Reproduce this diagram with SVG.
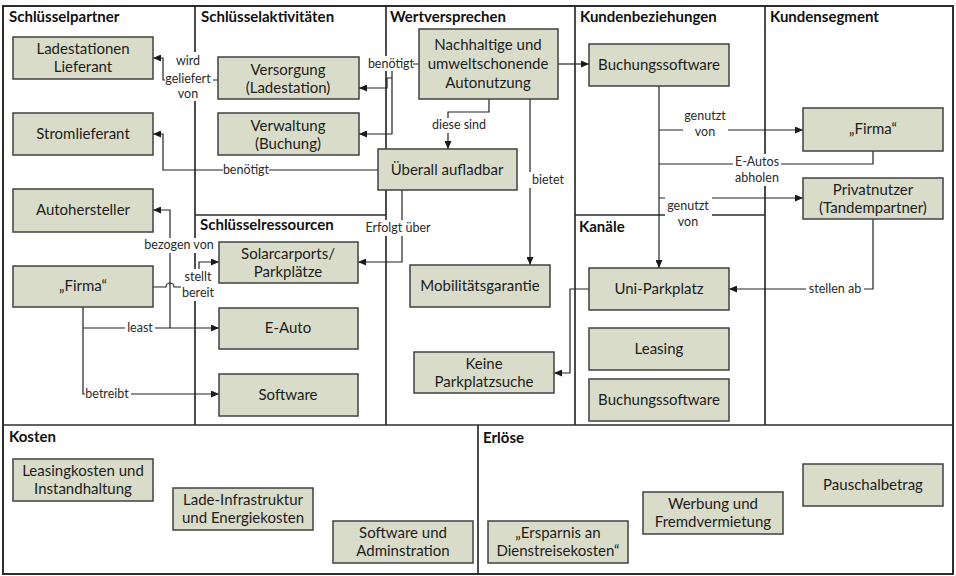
<svg xmlns="http://www.w3.org/2000/svg" width="956" height="576" viewBox="0 0 956 576">
<defs>
<style>
.grid{stroke:#2e2e2e;stroke-width:1.7;fill:none}
.outer{stroke:#2e2e2e;stroke-width:2;fill:none}
.hdr{font-family:Lato,"Liberation Sans",sans-serif;font-weight:bold;font-size:15px;fill:#111}
.box{fill:#d9dcc9;stroke:#404040;stroke-width:1.5}
.bt{font-family:Lato,"Liberation Sans",sans-serif;font-size:15px;fill:#1c1c1c;text-anchor:middle}
.con{stroke:#222;stroke-width:1.2;fill:none}
.arr{marker-end:url(#ah)}
.lb{font-family:Lato,"Liberation Sans",sans-serif;font-size:12.5px;fill:#2a2a2a;text-anchor:middle}
.lbg{fill:#fff}
</style>
<marker id="ah" markerUnits="userSpaceOnUse" markerWidth="8" markerHeight="7" refX="8" refY="3.5" orient="auto">
<path d="M0,0 L8,3.5 L0,7 z" fill="#1a1a1a"/>
</marker>
</defs>
<rect width="956" height="576" fill="#fff"/>
<g id="grid">
<rect class="outer" x="3" y="6" width="950" height="568"/>
<path class="grid" d="M195,6 V425 M386,6 V425 M575,6 V425 M765,6 V425 M3,425 H953 M478,425 V574 M195,215 H386 M575,215 H765"/>
<text class="hdr" x="9" y="22">Schlüsselpartner</text>
<text class="hdr" x="201" y="22">Schlüsselaktivitäten</text>
<text class="hdr" x="390" y="22">Wertversprechen</text>
<text class="hdr" x="580" y="22">Kundenbeziehungen</text>
<text class="hdr" x="770" y="22">Kundensegment</text>
<text class="hdr" x="200" y="230">Schlüsselressourcen</text>
<text class="hdr" x="579" y="232">Kanäle</text>
<text class="hdr" x="9" y="442">Kosten</text>
<text class="hdr" x="483" y="443">Erlöse</text>
</g>
<g id="connectors">
<path class="con arr" d="M218,80 H163 V58 H153"/>
<path class="con arr" d="M419,64 H392 V134 H359"/>
<path class="con arr" d="M392,78 H387 V88 H359"/>
<path class="con arr" d="M378,170 H163 V134 H153"/>
<path class="con arr" d="M489,99 V112 H448 V149"/>
<path class="con arr" d="M530,99 V265"/>
<path class="con arr" d="M402,190 V262 H358"/>
<path class="con arr" d="M558,64 H589"/>
<path class="con arr" d="M659,86 V268"/>
<path class="con arr" d="M659,130 H803"/>
<path class="con" d="M873,151 V164 H659"/>
<path class="con arr" d="M659,198 H803"/>
<path class="con arr" d="M873,219 V289 H729"/>
<path class="con arr" d="M589,289 H570 V373 H554"/>
<path class="con arr" d="M83,307 V394 H219"/>
<path class="con arr" d="M83,328 H219"/>
<path class="con arr" d="M170,328 V210 H153"/>
<path class="con arr" d="M153,287 H166 a4,4 0 0 1 8,0 H199 V262 H219"/>
<g id="labels">
<rect class="lbg" x="165" y="52" width="48" height="49"/>
<text class="lb" x="188" y="65">wird</text>
<text class="lb" x="188" y="83">geliefert</text>
<text class="lb" x="188" y="98">von</text>
<rect class="lbg" x="369" y="56" width="44" height="15"/>
<text class="lb" x="391" y="68">benötigt</text>
<rect class="lbg" x="223" y="163" width="46" height="15"/>
<text class="lb" x="246" y="174">benötigt</text>
<rect class="lbg" x="426" y="118" width="66" height="15"/>
<text class="lb" x="459" y="129">diese sind</text>
<rect class="lbg" x="529" y="172" width="36" height="16"/>
<text class="lb" x="548" y="184">bietet</text>
<rect class="lbg" x="363" y="220" width="70" height="16"/>
<text class="lb" x="398" y="232">Erfolgt über</text>
<rect class="lbg" x="683" y="108" width="45" height="32"/>
<text class="lb" x="705" y="120">genutzt</text>
<text class="lb" x="705" y="136">von</text>
<rect class="lbg" x="733" y="154" width="48" height="32"/>
<text class="lb" x="757" y="166">E-Autos</text>
<text class="lb" x="757" y="182">abholen</text>
<rect class="lbg" x="665" y="196" width="47" height="34"/>
<text class="lb" x="688" y="210">genutzt</text>
<text class="lb" x="688" y="226">von</text>
<rect class="lbg" x="806" y="282" width="58" height="15"/>
<text class="lb" x="835" y="293">stellen ab</text>
<rect class="lbg" x="142" y="238" width="74" height="15"/>
<text class="lb" x="179" y="249">bezogen von</text>
<rect class="lbg" x="181" y="269" width="36" height="32"/>
<text class="lb" x="198" y="281">stellt</text>
<text class="lb" x="198" y="297">bereit</text>
<rect class="lbg" x="125" y="321" width="30" height="15"/>
<text class="lb" x="140" y="332">least</text>
<rect class="lbg" x="85" y="387" width="46" height="15"/>
<text class="lb" x="107" y="398">betreibt</text>
</g>
</g>
<g id="n-ladestationen"><rect class="box" x="13" y="37" width="140" height="42"/><text class="bt" x="83" y="54">Ladestationen</text><text class="bt" x="83" y="72">Lieferant</text></g>
<g id="n-stromlieferant"><rect class="box" x="13" y="113" width="140" height="42"/><text class="bt" x="83" y="139">Stromlieferant</text></g>
<g id="n-autohersteller"><rect class="box" x="13" y="189" width="140" height="43"/><text class="bt" x="83" y="215">Autohersteller</text></g>
<g id="n-firma-partner"><rect class="box" x="13" y="266" width="140" height="41"/><text class="bt" x="83" y="291">„Firma“</text></g>
<g id="n-versorgung"><rect class="box" x="218" y="57" width="141" height="42"/><text class="bt" x="288" y="75">Versorgung</text><text class="bt" x="288" y="93">(Ladestation)</text></g>
<g id="n-verwaltung"><rect class="box" x="218" y="113" width="141" height="42"/><text class="bt" x="288" y="131">Verwaltung</text><text class="bt" x="288" y="149">(Buchung)</text></g>
<g id="n-solarcarports"><rect class="box" x="219" y="242" width="139" height="41"/><text class="bt" x="288" y="259">Solarcarports/</text><text class="bt" x="288" y="277">Parkplätze</text></g>
<g id="n-eauto"><rect class="box" x="219" y="308" width="139" height="41"/><text class="bt" x="288" y="333">E-Auto</text></g>
<g id="n-software"><rect class="box" x="219" y="374" width="139" height="42"/><text class="bt" x="288" y="400">Software</text></g>
<g id="n-nachhaltig"><rect class="box" x="419" y="29" width="139" height="70"/><text class="bt" x="488" y="50">Nachhaltige und</text><text class="bt" x="488" y="69">umweltschonende</text><text class="bt" x="488" y="88">Autonutzung</text></g>
<g id="n-ueberall"><rect class="box" x="378" y="149" width="139" height="41"/><text class="bt" x="447" y="175">Überall aufladbar</text></g>
<g id="n-mobil"><rect class="box" x="410" y="265" width="140" height="42"/><text class="bt" x="480" y="291">Mobilitätsgarantie</text></g>
<g id="n-keine"><rect class="box" x="414" y="352" width="140" height="41"/><text class="bt" x="484" y="369">Keine</text><text class="bt" x="484" y="387">Parkplatzsuche</text></g>
<g id="n-buchung-kb"><rect class="box" x="589" y="44" width="140" height="42"/><text class="bt" x="659" y="70">Buchungssoftware</text></g>
<g id="n-uniparkplatz"><rect class="box" x="589" y="268" width="140" height="42"/><text class="bt" x="659" y="294">Uni-Parkplatz</text></g>
<g id="n-leasing"><rect class="box" x="589" y="328" width="140" height="42"/><text class="bt" x="659" y="354">Leasing</text></g>
<g id="n-buchung-kanal"><rect class="box" x="589" y="379" width="140" height="42"/><text class="bt" x="659" y="405">Buchungssoftware</text></g>
<g id="n-firma-segment"><rect class="box" x="803" y="108" width="140" height="43"/><text class="bt" x="873" y="134">„Firma“</text></g>
<g id="n-privatnutzer"><rect class="box" x="803" y="178" width="140" height="41"/><text class="bt" x="873" y="195">Privatnutzer</text><text class="bt" x="873" y="213">(Tandempartner)</text></g>
<g id="n-leasingkosten"><rect class="box" x="13" y="459" width="140" height="42"/><text class="bt" x="83" y="476">Leasingkosten und</text><text class="bt" x="83" y="494">Instandhaltung</text></g>
<g id="n-ladeinfra"><rect class="box" x="173" y="488" width="140" height="42"/><text class="bt" x="243" y="505">Lade-Infrastruktur</text><text class="bt" x="243" y="523">und Energiekosten</text></g>
<g id="n-softwareadmin"><rect class="box" x="333" y="521" width="140" height="42"/><text class="bt" x="403" y="538">Software und</text><text class="bt" x="403" y="556">Adminstration</text></g>
<g id="n-ersparnis"><rect class="box" x="488" y="521" width="140" height="42"/><text class="bt" x="558" y="538">„Ersparnis an</text><text class="bt" x="558" y="556">Dienstreisekosten“</text></g>
<g id="n-werbung"><rect class="box" x="643" y="492" width="140" height="42"/><text class="bt" x="713" y="509">Werbung und</text><text class="bt" x="713" y="527">Fremdvermietung</text></g>
<g id="n-pauschal"><rect class="box" x="803" y="464" width="140" height="42"/><text class="bt" x="873" y="490">Pauschalbetrag</text></g>
</svg>
